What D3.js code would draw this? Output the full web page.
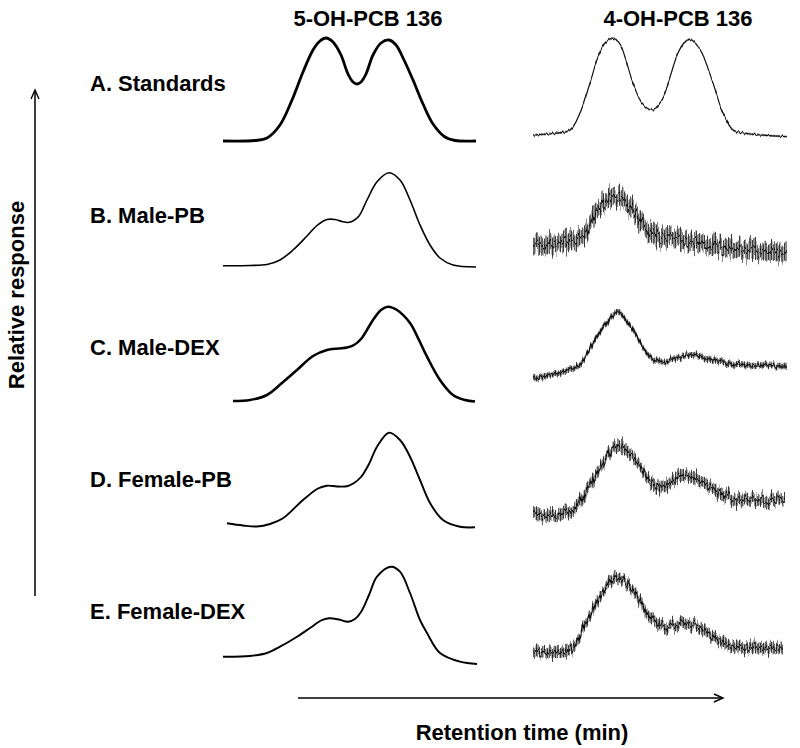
<!DOCTYPE html>
<html>
<head>
<meta charset="utf-8">
<script src="https://cdn.jsdelivr.net/npm/d3@7"></script>
<style>
  body { margin: 0; background: #fff; }
  text { font-family: "Liberation Sans", Arial, sans-serif; font-weight: bold; fill: #000; }
</style>
</head>
<body>
<script>
// rows and columns of the figure
const rows = ["A. Standards", "B. Male-PB", "C. Male-DEX", "D. Female-PB", "E. Female-DEX"];
const columns = ["5-OH-PCB 136", "4-OH-PCB 136"];
const yTitle = "Relative response";
const xTitle = "Retention time (min)";

// 5-OH-PCB 136 traces, [scan, response]
const oh5Standards = [[0,21],[32,21.5],[44,24],[57,37],[69,62],[80,90],[90,112],[97,121],[103,124],[110,120],[118,107],[125,88],[130,80],[134,78],[138,80],[143,88],[150,107],[158,119],[166,122],[173,117],[181,102],[190,82],[200,58],[210,38],[222,25],[232,21.5],[253,21]];
const oh5MalePB = [[0,28.3],[27,28.5],[44,29.5],[57,34],[70,44],[84,58],[94,68.5],[104,74.5],[112,74.5],[119,72.5],[125,71.5],[130,73],[136,78],[144,94],[154,112.3],[166,121.3],[177,114],[187,94],[197,69],[207,49],[217,36],[230,29],[253,27]];
const oh5MaleDEX = [[10,25],[27,26],[44,31],[59,43],[74,56],[90,70],[104,76],[115,77.5],[124,78.5],[131,81],[138,87],[150,106],[158,116],[165,119.3],[174,116],[187,103],[195,88],[204,69.3],[217,46],[230,31],[242,26],[252,24.5]];
const oh5FemalePB = [[4,34.7],[20,32.5],[34,31.5],[47,34],[60,39.7],[80,58],[95,69.5],[104,72.3],[114,71.5],[124,71.8],[131,75],[138,81],[146,94],[154,111.3],[166,125.3],[177,118],[187,101.3],[197,78],[207,55],[220,38],[237,31.3],[252,30.7]];
const oh5FemaleDEX = [[0,33.3],[27,34],[44,37],[57,43.3],[74,53.3],[87,62],[98,69.5],[106,71.7],[116,70.5],[125,68.3],[132,71],[138,78],[146,95],[154,113.3],[168,123.3],[177,118.3],[187,97],[197,70],[204,57],[217,37],[237,28.3],[254,26]];

// 4-OH-PCB 136 traces, [scan, response]
const oh4Standards = [[0,27],[22,28.7],[37,32],[47,49],[57,79],[65,105],[72,119],[80,123.7],[87,118],[92,105],[100,79],[109,59],[119,52],[129,62],[137,85],[145,109],[151,119],[157,122.7],[163,118],[169,109],[180,79],[190,49],[200,32],[210,29],[254,25.3]];
const oh4MalePB = [[0,47.3],[27,50.7],[50,59],[60,77.3],[74,94],[84,97.3],[97,87.3],[110,70.7],[124,57.3],[150,54],[177,49],[210,44],[254,41]];
const oh4MaleDEX = [[0,48],[17,51],[44,59.3],[60,83],[72,101],[85,114.3],[97,101],[104,89.3],[117,69.3],[130,64.3],[157,71],[194,63],[254,60]];
const oh4FemalePB = [[0,43],[37,46.3],[54,68],[70,95],[85,113],[104,98],[117,76.3],[130,71.3],[150,83],[170,75],[194,61.3],[224,58],[252,60]];
const oh4FemaleDEX = [[0,38.3],[37,40],[50,60],[67,93.3],[84,113.3],[104,93.3],[117,73.3],[134,63.3],[150,66.7],[170,60],[194,45],[250,42]];

// baseline noise (half spread, response units) of the 4-OH traces
const oh4Noise = [2, 15, 5, 10, 9];

const oh5 = [oh5Standards, oh5MalePB, oh5MaleDEX, oh5FemalePB, oh5FemaleDEX];
const oh4 = [oh4Standards, oh4MalePB, oh4MaleDEX, oh4FemalePB, oh4FemaleDEX];

// styles
const oh5Stroke = [2.8, 1.6, 2.6, 1.9, 1.9];

const svg = d3.select("body").append("svg")
    .attr("width", 800)
    .attr("height", 748);

const defs = svg.append("defs");
defs.append("pattern")
    .attr("id", "noise")
    .attr("width", 1.6)
    .attr("height", 6)
    .attr("patternUnits", "userSpaceOnUse")
    .append("rect")
    .attr("width", 1)
    .attr("height", 6)
    .attr("fill", "#000");

// jagged look of the detector noise, one filter per trace (vertical shift only)
oh4Noise.forEach((n, i) => {
    const f = defs.append("filter")
        .attr("id", "jitter" + i)
        .attr("x", "-5%").attr("y", "-60%")
        .attr("width", "110%").attr("height", "220%");
    f.append("feTurbulence")
        .attr("type", "fractalNoise")
        .attr("baseFrequency", "0.5 0.02")
        .attr("numOctaves", 2)
        .attr("seed", i + 2)
        .attr("result", "turb");
    f.append("feColorMatrix")
        .attr("in", "turb")
        .attr("type", "matrix")
        .attr("values", "1 0 0 0 0  0 1 0 0 0  0 0 0 0 0.5  0 0 0 0 1")
        .attr("result", "shift");
    f.append("feDisplacementMap")
        .attr("in", "SourceGraphic")
        .attr("in2", "shift")
        .attr("scale", n * 1.7)
        .attr("xChannelSelector", "B")
        .attr("yChannelSelector", "R");
});

// scales
const xLeft = d3.scaleLinear().domain([0, 254]).range([223, 477]);
const xRight = d3.scaleLinear().domain([0, 254]).range([533, 787]);
const rowBand = d3.scaleBand().domain(rows).range([30, 690]);
const yResp = d3.scaleLinear().domain([0, 132]).range([132, 0]);

// column titles
svg.selectAll(".colTitle")
    .data(columns)
    .enter().append("text")
    .attr("class", "colTitle")
    .attr("x", (d, i) => i == 0 ? xLeft(115) + 30 : xRight(115) + 30)
    .attr("y", 26)
    .attr("text-anchor", "middle")
    .style("font-size", "22px")
    .text(d => d);

// one group per row
const row = svg.selectAll(".row")
    .data(rows)
    .enter().append("g")
    .attr("class", "row")
    .attr("transform", d => "translate(0," + rowBand(d) + ")");

row.append("text")
    .attr("x", 90)
    .attr("y", 61)
    .style("font-size", "22px")
    .text(d => d);

// smooth 5-OH traces
const lineLeft = d3.line()
    .x(d => xLeft(d[0]))
    .y(d => yResp(d[1]))
    .curve(d3.curveCatmullRom.alpha(0.5));

row.append("path")
    .attr("d", (d, i) => lineLeft(oh5[i]))
    .attr("fill", "none")
    .attr("stroke", "#000")
    .attr("stroke-width", (d, i) => oh5Stroke[i])
    .attr("stroke-linejoin", "round");

// noisy 4-OH traces: a noise band plus the mean line
const lineRight = d3.line()
    .x(d => xRight(d[0]))
    .y(d => yResp(d[1]))
    .curve(d3.curveCatmullRom.alpha(0.5));

const trace = row.append("g")
    .attr("filter", (d, i) => "url(#jitter" + i + ")");

trace.append("path")
    .attr("d", (d, i) => d3.area()
        .x(p => xRight(p[0]))
        .y0(p => yResp(p[1] - oh4Noise[i] * 0.6))
        .y1(p => yResp(p[1] + oh4Noise[i] * 0.6))
        .curve(d3.curveCatmullRom.alpha(0.5))(oh4[i]))
    .attr("fill", "url(#noise)")
    .attr("opacity", (d, i) => i == 0 ? 0.6 : 0.85);

trace.append("path")
    .attr("d", (d, i) => lineRight(oh4[i]))
    .attr("fill", "none")
    .attr("stroke", "#111")
    .attr("stroke-width", (d, i) => i == 0 ? 1.1 : 1.6);

// axis arrows
const ax = svg.append("g")
    .attr("stroke", "#000")
    .attr("stroke-width", 1.5)
    .attr("fill", "none");

ax.append("line")
    .attr("x1", 35).attr("y1", 596)
    .attr("x2", 35).attr("y2", 92);
ax.append("path")
    .attr("d", "M31,99L35,90L39,99")
    .attr("stroke-width", 1.4);

ax.append("line")
    .attr("x1", 298).attr("y1", 698)
    .attr("x2", 721).attr("y2", 698);
ax.append("path")
    .attr("d", "M714,694L723,698L714,702")
    .attr("stroke-width", 1.4);

svg.append("text")
    .attr("transform", "translate(24,295) rotate(-90)")
    .attr("text-anchor", "middle")
    .style("font-size", "22px")
    .text(yTitle);

svg.append("text")
    .attr("x", 522)
    .attr("y", 740)
    .attr("text-anchor", "middle")
    .style("font-size", "22px")
    .text(xTitle);
</script>
</body>
</html>
